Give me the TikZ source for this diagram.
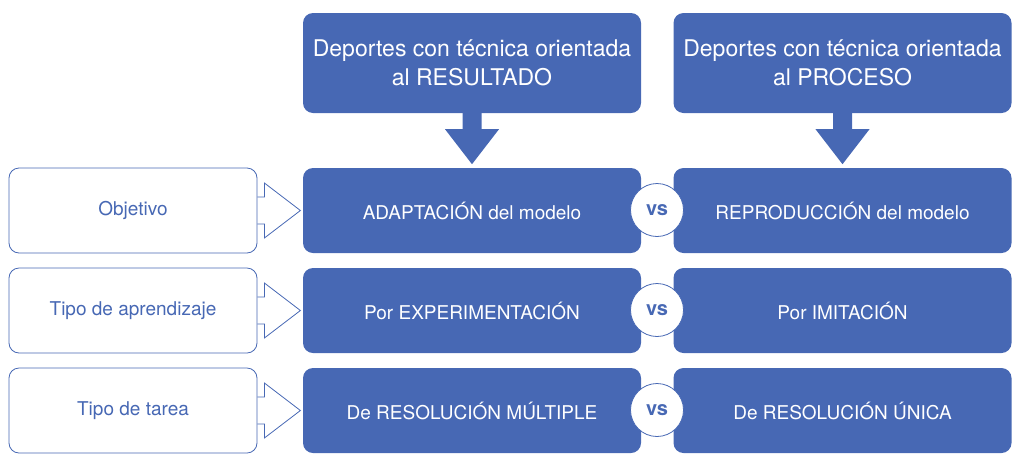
\documentclass[tikz,border=0pt]{standalone}
\usepackage{fontspec}
\setmainfont{TeX Gyre Heros}
\definecolor{bl}{HTML}{4768B4}
\begin{document}
\begin{tikzpicture}[x=1pt,y=-1pt,
  bbox/.style={fill=bl, rounded corners=10pt, minimum width=338pt, minimum height=85pt, text=white, font=\fontsize{19}{22}\selectfont, inner sep=0pt},
  hdr/.style={bbox, minimum height=100pt, align=center, font=\fontsize{23}{29}\selectfont},
  lbox/.style={draw=bl, line width=0.8pt, rounded corners=10pt, minimum width=248pt, minimum height=85pt, text=bl, fill=white, font=\fontsize{19}{22}\selectfont, inner sep=0pt},
  vsc/.style={circle, draw=bl, fill=white, minimum size=53pt, line width=0.8pt, text=bl, font=\bfseries\fontsize{20}{20}\selectfont, inner sep=0pt},
  harrow/.style={draw=bl, line width=0.8pt, line join=miter},
  darrow/.style={fill=bl}]
\useasboundingbox (0,0) rectangle (1024,472);

% headers
\node[hdr] (hL) at (472,63) {Deportes con técnica orientada\\al RESULTADO};
\node[hdr] (hR) at (842.5,63) {Deportes con técnica orientada\\al PROCESO};

% rows
\node[bbox] (a1) at (472,210.5) {ADAPTACIÓN del modelo};
\node[bbox] (b1) at (842.5,210.5) {REPRODUCCIÓN del modelo};
\node[bbox] (a2) at (472,310.5) {Por EXPERIMENTACIÓN};
\node[bbox] (b2) at (842.5,310.5) {Por IMITACIÓN};
\node[bbox] (a3) at (472,410.5) {De RESOLUCIÓN MÚLTIPLE};
\node[bbox] (b3) at (842.5,410.5) {De RESOLUCIÓN ÚNICA};

% left labels
\node[lbox] (l1) at (133,210.5) {Objetivo};
\node[lbox] (l2) at (133,310.5) {Tipo de aprendizaje};
\node[lbox] (l3) at (133,410.5) {Tipo de tarea};

% vs circles
\node[vsc] (v1) at (657,210) {vs};
\node[vsc] (v2) at (657,310) {vs};
\node[vsc] (v3) at (657,410) {vs};

% down arrows
\foreach \h in {hL,hR}{
  \fill[bl] ([xshift=-9.5pt]\h.south) -- ++(0,16) -- ++(-17.5,0) -- ++(27,35) -- ++(27,-35) -- ++(-17.5,0) -- ++(0,-16) -- cycle;
}

% hollow arrows
\foreach \l in {l1,l2,l3}{
  \draw[harrow] ([yshift=13.5pt]\l.east) -- ++(7,0) -- ++(0,-14) -- ++(36,27.5) -- ++(-36,27.5) -- ++(0,-14) -- ++(-7,0);
}
\end{tikzpicture}
\end{document}
